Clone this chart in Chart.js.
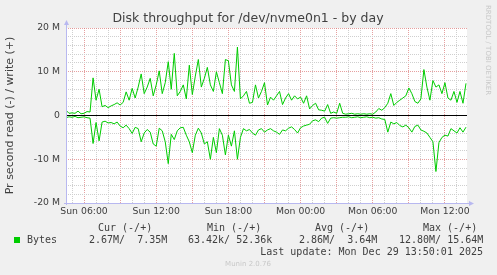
<!DOCTYPE html>
<html>
<head>
<meta charset="utf-8">
<script src="https://cdn.jsdelivr.net/npm/chart.js@4.4.1/dist/chart.umd.min.js"></script>
<style>
  html, body { margin: 0; padding: 0; background: #f0f0f0; }
</style>
</head>
<body>
<canvas id="grafico" width="497" height="275"></canvas>
<script>
// time axis in hours counted from Sun 00:00
const horaInicio = 4.5;      // Sun 04:30
const horaFin = 37.8333;     // Mon 13:50
const paso = 0.25;           // one reading every 15 minutes

// write (+) in MB/s
const escritura = [
  1.2, 0.5, 0.6, 0.5, 1.0, 0.4, 0.5, 0.9, 0.8, 8.6, 3.5, 6.0, 2.0, 2.3, 1.8, 2.2, 2.5, 2.9, 2.4, 3.0, 5.4, 3.5, 6.2,
  4.0, 6.5, 9.5, 5.0, 6.5, 8.5, 4.5, 7.0, 10.2, 5.0, 7.5, 12.3, 6.0, 14.2, 4.5, 5.5, 7.0, 3.8, 11.5, 4.8, 9.0, 12.8, 6.5,
  8.5, 11.0, 7.0, 5.5, 10.0, 7.5, 5.0, 12.8, 12.5, 7.0, 5.5, 15.64, 3.8, 4.5, 5.5, 2.8, 3.0, 7.0, 4.0, 5.5, 7.5, 2.4, 4.2, 3.5,
  4.5, 5.5, 2.5, 4.0, 5.0, 3.5, 4.5, 3.8, 4.2, 2.8, 4.5, 1.5, 2.3, 2.8, 1.3, 1.2, 1.0, 2.5, 0.5, 0.8, 0.5, 2.8, 0.5,
  0.3, 0.4, 0.5, 0.3, 0.4, 0.3, 0.4, 0.3, 0.4, 0.3, 0.8, 1.6, 1.2, 1.8, 2.8, 5.0, 2.3, 3.0, 3.5, 4.0, 4.5, 6.3, 5.0,
  3.2, 2.8, 3.8, 10.5, 6.5, 3.5, 8.0, 6.5, 7.0, 5.0, 7.5, 4.0, 3.5, 5.5, 3.0, 5.5, 2.8, 7.35
];

// read (-) in MB/s, drawn below zero
const lectura = [
  0.5, 0.3, 0.4, 0.2, 0.5, 0.4, 0.3, 0.5, 0.6, 6.4, 1.6, 5.8, 1.5, 1.3, 1.7, 1.6, 1.9, 1.5, 2.4, 2.8, 2.2, 3.0, 4.1,
  2.7, 3.0, 6.0, 4.0, 3.2, 3.8, 6.5, 7.0, 2.9, 3.5, 6.0, 11.0, 4.3, 5.5, 3.5, 2.8, 2.7, 4.5, 6.0, 8.5, 4.5, 2.9, 4.0,
  6.5, 6.0, 10.0, 5.0, 8.5, 3.0, 4.5, 9.0, 4.5, 7.0, 3.5, 10.0, 5.0, 3.0, 3.5, 3.2, 4.0, 4.5, 3.3, 3.0, 3.8, 3.3, 3.0, 3.5,
  3.8, 4.3, 3.3, 3.5, 2.9, 2.6, 3.2, 4.0, 2.8, 2.4, 2.2, 2.0, 1.2, 1.0, 1.4, 0.6, 0.4, 1.8, 0.6, 0.5, 0.6, 0.5, 0.4,
  0.4, 0.3, 0.5, 0.4, 0.3, 0.5, 0.4, 0.3, 0.5, 0.4, 0.6, 0.5, 0.8, 0.9, 3.8, 1.5, 1.9, 1.6, 2.3, 2.6, 2.2, 2.8, 3.8,
  2.5, 2.2, 3.3, 3.6, 4.0, 5.0, 6.0, 12.8, 6.2, 5.0, 4.5, 4.7, 3.0, 3.5, 4.0, 2.8, 3.8, 2.67
];

const horasEtiqueta = [6, 12, 18, 24, 30, 36];
const textosEtiqueta = ['Sun 06:00', 'Sun 12:00', 'Sun 18:00', 'Mon 00:00', 'Mon 06:00', 'Mon 12:00'];
const valoresY = [-20, -10, 0, 10, 20];
const textosY = ['-20 M', '-10 M', '0', '10 M', '20 M'];

const titulo = 'Disk throughput for /dev/nvme0n1 - by day';
const columnas = ['Cur (-/+)', 'Min (-/+)', 'Avg (-/+)', 'Max (-/+)'];
const valoresColumnas = ['2.67M/  7.35M', '63.42k/ 52.36k', '2.86M/  3.64M', '12.80M/ 15.64M'];
const nombreSerie = 'Bytes';
const ultimaActualizacion = 'Last update: Mon Dec 29 13:50:01 2025';

const verde = '#00cc00';
const ejeColor = '#b8b8f0';
const gridMayor = 'rgba(220, 120, 120, 0.7)';
const gridMenor = '#cfcfcf';

const puntosEscritura = escritura.map((v, i) => ({ x: horaInicio + i * paso, y: v }));
const puntosLectura = lectura.map((v, i) => ({ x: horaInicio + i * paso, y: -v }));

const fondoMunin = {
  id: 'fondoMunin',
  beforeDraw(chart) {
    const { ctx, chartArea: a } = chart;
    ctx.save();
    ctx.fillStyle = '#f0f0f0';
    ctx.fillRect(0, 0, chart.width, chart.height);
    ctx.fillStyle = '#ffffff';
    ctx.fillRect(a.left, a.top, a.right - a.left, a.bottom - a.top);
    ctx.restore();
  },
  afterDraw(chart) {
    const { ctx, chartArea: a } = chart;
    ctx.save();
    // title, centred on the whole image
    ctx.fillStyle = '#404040';
    ctx.font = '12.5px "DejaVu Sans"';
    ctx.textAlign = 'center';
    ctx.textBaseline = 'middle';
    ctx.fillText(titulo, 248, 19);

    // axes with little arrows like rrdtool
    ctx.strokeStyle = ejeColor;
    ctx.fillStyle = ejeColor;
    ctx.lineWidth = 1;
    ctx.beginPath();
    ctx.moveTo(a.left + 0.5, a.bottom + 2);
    ctx.lineTo(a.left + 0.5, a.top - 4);
    ctx.moveTo(a.left - 2, a.bottom + 0.5);
    ctx.lineTo(a.right + 3, a.bottom + 0.5);
    ctx.stroke();
    ctx.beginPath();
    ctx.moveTo(a.left - 2, a.top - 3);
    ctx.lineTo(a.left + 3, a.top - 3);
    ctx.lineTo(a.left + 0.5, a.top - 8);
    ctx.closePath();
    ctx.fill();
    ctx.beginPath();
    ctx.moveTo(a.right + 2, a.bottom - 2);
    ctx.lineTo(a.right + 2, a.bottom + 3);
    ctx.lineTo(a.right + 7, a.bottom + 0.5);
    ctx.closePath();
    ctx.fill();

    // legend table
    ctx.fillStyle = '#404040';
    ctx.font = '10px "DejaVu Sans Mono"';
    ctx.textAlign = 'left';
    const xCol = [98, 207, 315, 423];
    const xVal = [89, 188, 299, 399];
    columnas.forEach((c, i) => ctx.fillText(c, xCol[i], 228));
    ctx.fillText(nombreSerie, 27, 240);
    valoresColumnas.forEach((v, i) => ctx.fillText(v, xVal[i], 240));
    ctx.textAlign = 'right';
    ctx.fillText(ultimaActualizacion, 483, 252);
    ctx.fillStyle = verde;
    ctx.fillRect(14, 237, 6, 6);

    ctx.fillStyle = '#c8c8c8';
    ctx.font = '7px "DejaVu Sans"';
    ctx.textAlign = 'center';
    ctx.fillText('Munin 2.0.76', 248, 264);

    ctx.translate(488, 5);
    ctx.rotate(Math.PI / 2);
    ctx.textAlign = 'left';
    ctx.fillText('RRDTOOL / TOBI OETIKER', 0, 0);
    ctx.restore();
  }
};

new Chart(document.getElementById('grafico'), {
  type: 'line',
  data: {
    datasets: [
      {
        label: 'cero',
        data: [{ x: horaInicio, y: 0 }, { x: horaFin, y: 0 }],
        borderColor: '#000000',
        borderWidth: 1,
        pointRadius: 0,
        order: 0
      },
      {
        label: 'write',
        data: puntosEscritura,
        borderColor: verde,
        borderWidth: 1,
        pointRadius: 0,
        tension: 0,
        order: 1
      },
      {
        label: 'read',
        data: puntosLectura,
        borderColor: verde,
        borderWidth: 1,
        pointRadius: 0,
        tension: 0,
        order: 1
      }
    ]
  },
  options: {
    responsive: false,
    animation: false,
    devicePixelRatio: 1,
    layout: { padding: { left: 0, right: 30, top: 28, bottom: 0 } },
    plugins: {
      legend: { display: false },
      tooltip: { enabled: false },
      title: { display: false }
    },
    scales: {
      x: {
        type: 'linear',
        min: horaInicio,
        max: horaFin,
        afterBuildTicks: (scale) => {
          const t = [];
          for (let h = Math.ceil(horaInicio); h <= horaFin; h++) t.push({ value: h });
          scale.ticks = t;
        },
        afterFit: (scale) => { scale.height = 72; },
        grid: {
          drawTicks: false,
          color: (c) => (c.tick && c.tick.value % 3 === 0 ? gridMayor : gridMenor),
          lineWidth: 1
        },
        border: { display: false, dash: [1, 1] },
        ticks: {
          autoSkip: false,
          maxRotation: 0,
          padding: 3,
          color: '#404040',
          font: { family: 'DejaVu Sans', size: 9.3 },
          callback: (v) => {
            const k = horasEtiqueta.indexOf(v);
            return k >= 0 ? textosEtiqueta[k] : '';
          }
        }
      },
      y: {
        min: -20,
        max: 20,
        afterFit: (scale) => { scale.width = 66; },
        grid: {
          drawTicks: false,
          color: (c) => (c.tick && c.tick.value % 10 === 0 ? gridMayor : gridMenor),
          lineWidth: 1
        },
        border: { display: false, dash: [1, 1] },
        ticks: {
          stepSize: 2,
          autoSkip: false,
          padding: 6,
          color: '#404040',
          font: { family: 'DejaVu Sans', size: 9.3 },
          callback: (v) => {
            const k = valoresY.indexOf(v);
            return k >= 0 ? textosY[k] : '';
          }
        },
        title: {
          display: true,
          text: 'Pr second read (-) / write (+)',
          color: '#404040',
          font: { family: 'DejaVu Sans', size: 11 },
          padding: { top: 4, bottom: 0 }
        }
      }
    }
  },
  plugins: [fondoMunin]
});
</script>
</body>
</html>
